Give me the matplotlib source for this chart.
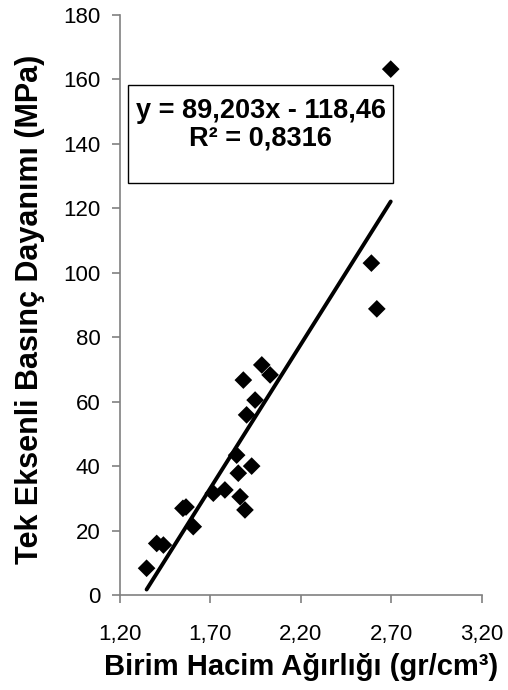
import matplotlib
matplotlib.use('Agg')
import matplotlib.pyplot as plt
from matplotlib.patches import Rectangle
import numpy as np

plt.rcParams['font.family'] = ['Liberation Sans', 'DejaVu Sans']

# birim hacim agirligi (gr/cm3) ve tek eksenli basinc dayanimi (MPa)
birim_hacim = [1.347, 1.403, 1.44, 1.548, 1.565, 1.605, 1.716,
               1.78, 1.845, 1.854, 1.864, 1.891, 1.928, 1.882,
               1.9, 1.947, 1.984, 2.03, 2.59, 2.62, 2.697]
dayanim = [8.3, 16.0, 15.5, 26.9, 27.3, 21.2, 31.6,
           32.6, 43.4, 37.8, 30.5, 26.4, 40.0, 66.7,
           55.9, 60.5, 71.4, 68.3, 103.0, 88.8, 163.2]

egim = 89.203
kesim = -118.46
denklem = 'y = 89,203x - 118,46'
r2_metni = 'R² = 0,8316'

x_ticks = [1.20, 1.70, 2.20, 2.70, 3.20]
x_tick_labels = ['1,20', '1,70', '2,20', '2,70', '3,20']
y_ticks = [0, 20, 40, 60, 80, 100, 120, 140, 160, 180]

W, H = 508, 690
fig = plt.figure(figsize=(W/100, H/100), dpi=100)
ax = fig.add_axes([120/W, 95/H, 361.7/W, 580/H])

ax.scatter(birim_hacim, dayanim, marker='D', s=9**2, color='black',
           edgecolors='none', zorder=3)

xl = np.array([min(birim_hacim), max(birim_hacim)])
ax.plot(xl, egim*xl + kesim, color='black', lw=2.8, solid_capstyle='round', zorder=2)

ax.set_xlim(1.2, 3.2)
ax.set_ylim(0, 180)
ax.set_xticks(x_ticks)
ax.set_xticklabels(x_tick_labels)
ax.set_yticks(y_ticks)

for s in ['top', 'right']:
    ax.spines[s].set_visible(False)
for s in ['left', 'bottom']:
    ax.spines[s].set_color('#808080')
    ax.spines[s].set_linewidth(1.2)
ax.tick_params(direction='out', length=6, width=1.2, color='#808080',
               labelsize=16)
ax.tick_params(axis='x', pad=15)
ax.tick_params(axis='y', pad=8)

# eksen basliklari
fig.text(301.5/W, 1 - 675/H, 'Birim Hacim Ağırlığı (gr/cm³)', fontsize=21,
         fontweight='bold', ha='center', va='baseline')
fig.text(30/W, 1 - 309/H, 'Tek Eksenli Basınç Dayanımı (MPa)', fontsize=22,
         fontweight='bold', ha='center', va='center', rotation=90)

# denklem kutusu
fig.patches.append(Rectangle((128/W, 1 - 183/H), 265/W, 98/H,
                             transform=fig.transFigure, facecolor='white',
                             edgecolor='black', linewidth=1.0, zorder=5))
fig.text(260.5/W, 1 - 118/H, denklem, fontsize=19.5, fontweight='bold',
         ha='center', va='baseline', zorder=6)
fig.text(260.5/W, 1 - 145/H, r2_metni, fontsize=19.5, fontweight='bold',
         ha='center', va='baseline', zorder=6)

fig.savefig('out.png', dpi=100)
